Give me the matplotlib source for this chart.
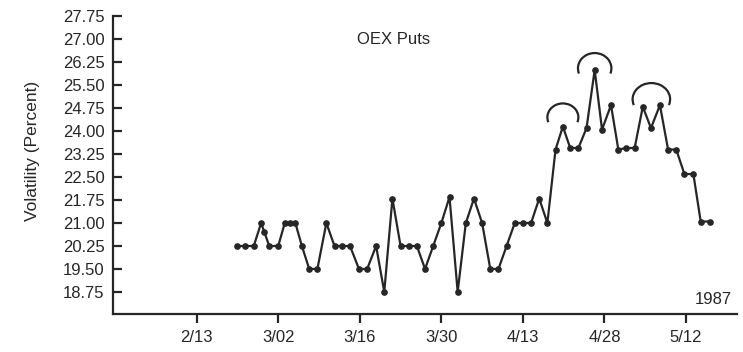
import matplotlib
matplotlib.use("Agg")
import matplotlib.pyplot as plt
from matplotlib.patches import Arc

plt.rcParams['font.family'] = ['Liberation Sans', 'DejaVu Sans']

# trading days counted from 2/13/1987
days = [4.9, 5.9, 7.0, 7.9, 8.3, 8.9, 10.0, 10.8, 11.4, 12.1, 12.9, 13.8, 14.8,
        15.9, 16.9, 17.8, 18.8, 19.9, 20.9, 22.0, 23.0, 24.0, 25.0, 26.0, 27.0,
        28.0, 29.0, 30.0, 31.0, 32.0, 33.0, 34.0, 35.0, 36.0, 37.0, 38.0, 39.0,
        40.0, 41.0, 42.0, 43.0, 44.0, 44.9, 45.8, 46.8, 47.8, 48.8, 49.7, 50.8,
        51.7, 52.7, 53.7, 54.7, 55.7, 56.8, 57.8, 58.8, 59.8, 60.9, 61.8, 62.9]
volatility = [20.25, 20.25, 20.25, 21.0, 20.7, 20.25, 20.25, 21.0, 21.0, 21.0, 20.25,
              19.5, 19.5, 21.0, 20.25, 20.25, 20.25, 19.5, 19.5, 20.25, 18.75, 21.8,
              20.25, 20.25, 20.25, 19.5, 20.25, 21.0, 21.85, 18.75, 21.0, 21.8, 21.0,
              19.5, 19.5, 20.25, 21.0, 21.0, 21.0, 21.8, 21.0, 23.4, 24.15, 23.45,
              23.45, 24.1, 26.0, 24.05, 24.85, 23.4, 23.45, 23.45, 24.8, 24.1, 24.85,
              23.4, 23.4, 22.6, 22.6, 21.05, 21.05]

x_tick_pos = [0, 10, 20, 30, 40, 50, 60]
x_tick_labels = ['2/13', '3/02', '3/16', '3/30', '4/13', '4/28', '5/12']
y_ticks = [18.75, 19.50, 20.25, 21.00, 21.75, 22.50, 23.25, 24.00, 24.75,
           25.50, 26.25, 27.00, 27.75]

# peaks marked with arcs (indices into the series)
arc_groups = [[42], [46], [52, 54]]
arc_offsets = [0.30, 0.05, 0.19]
arc_sizes = [(3.8, 0.91), (4.1, 1.0), (4.6, 1.06)]

ink = '#262626'
fs = 12

fig = plt.figure(figsize=(7.43, 3.52), dpi=100)
fig.patch.set_facecolor('white')
ax = fig.add_axes([113/743, 38/352, 624/743, 298/352])
ax.set_facecolor('white')

ax.plot(days, volatility, color=ink, lw=1.6, marker='o', ms=3.8,
        markerfacecolor=ink, markeredgecolor=ink, solid_joinstyle='miter')

for grp, off, (w, h) in zip(arc_groups, arc_offsets, arc_sizes):
    cx = sum(days[i] for i in grp) / len(grp)
    cy = max(volatility[i] for i in grp) + off
    ax.add_patch(Arc((cx, cy), w, h, theta1=-5, theta2=185, color=ink, lw=1.6))

ax.set_xlim(-10.26, 66.25)
ax.set_ylim(18.03, 27.76)

for s in ['top', 'right']:
    ax.spines[s].set_visible(False)
for s in ['left', 'bottom']:
    ax.spines[s].set_linewidth(1.6)
    ax.spines[s].set_color(ink)

ax.set_xticks(x_tick_pos)
ax.set_xticklabels(x_tick_labels)
ax.set_yticks(y_ticks)
ax.set_yticklabels([f'{v:.2f}' for v in y_ticks])
ax.tick_params(axis='y', direction='in', length=6.5, width=1.6, pad=6,
               labelsize=fs, colors=ink)
ax.tick_params(axis='x', direction='out', length=6.5, width=1.6, pad=5,
               labelsize=fs, colors=ink)

fig.text(33/743, 1 - 151/352, 'Volatility (Percent)', rotation=90,
         ha='center', va='center', fontsize=12.5, color=ink)
fig.text(357/743, 1 - 39/352, 'OEX Puts', ha='left', va='center',
         fontsize=fs, color=ink)
fig.text(732/743, 1 - 299/352, '1987', ha='right', va='center',
         fontsize=fs, color=ink)

fig.savefig('out.png', dpi=100)
